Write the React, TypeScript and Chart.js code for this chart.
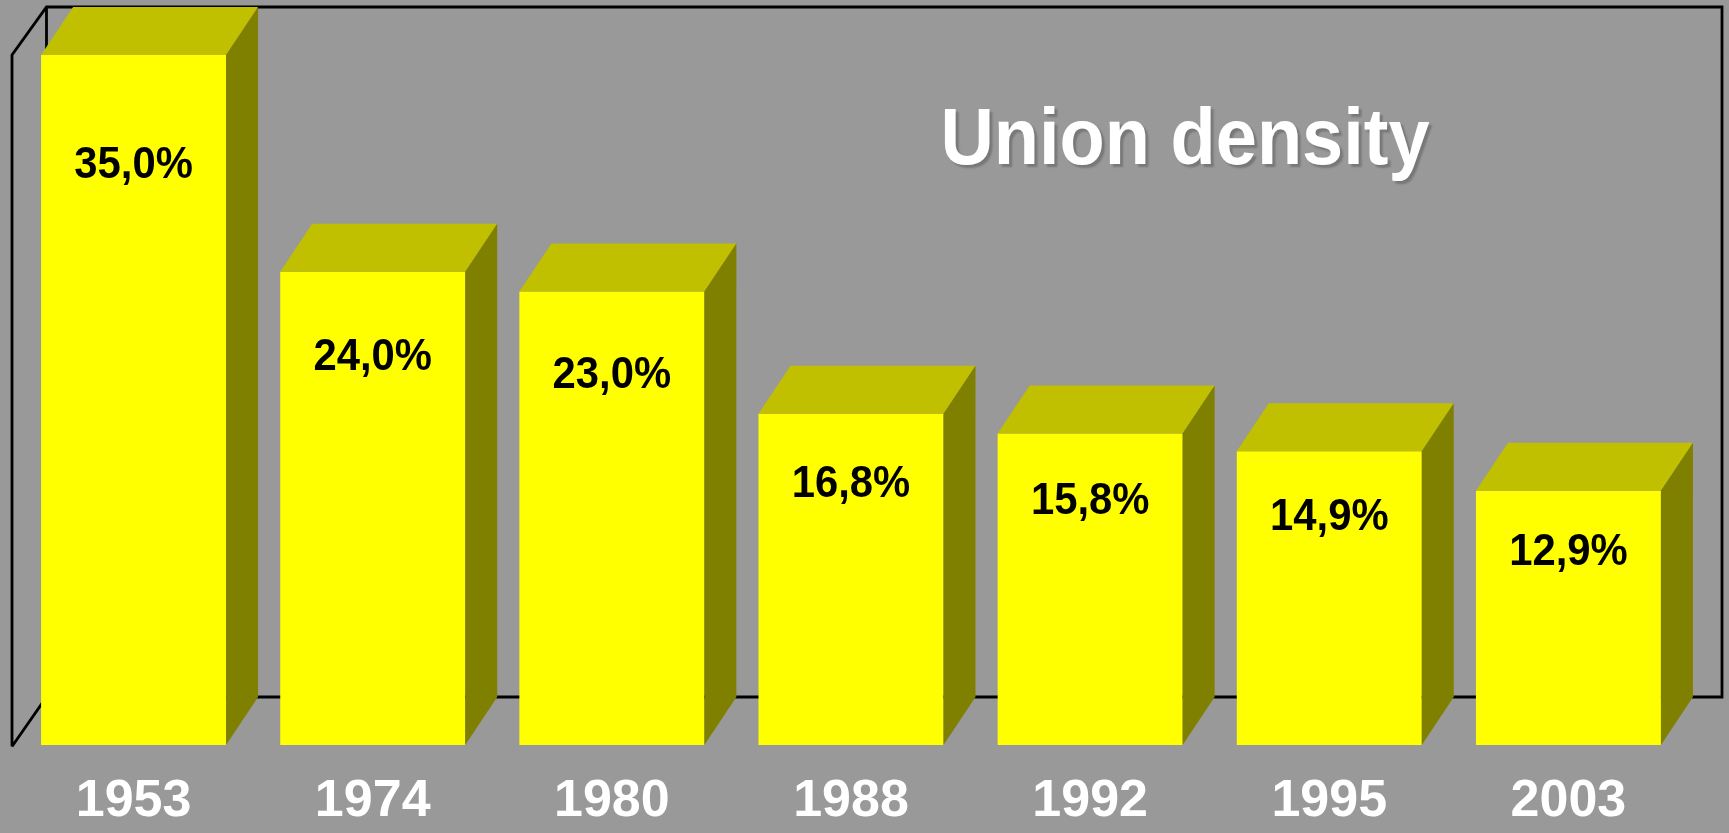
import React, { useEffect, useRef } from 'react';
import { Chart, registerables } from 'chart.js';

Chart.register(...registerables);

const years = ['1953', '1974', '1980', '1988', '1992', '1995', '2003'];
const density = [35.0, 24.0, 23.0, 16.8, 15.8, 14.9, 12.9];
const valueLabels = ['35,0%', '24,0%', '23,0%', '16,8%', '15,8%', '14,9%', '12,9%'];
const titleText = 'Union density';

const BG = '#999999';
const FRONT = '#ffff00';
const TOPC = '#c0c000';
const SIDE = '#808000';
const DX = 32;
const DY = 48;
const FONT = '"Liberation Sans", Arial, sans-serif';

const threeD = {
  id: 'threeD',
  beforeDraw(chart: any) {
    const { ctx, width, height, chartArea } = chart;
    ctx.save();
    ctx.fillStyle = BG;
    ctx.fillRect(0, 0, width, height);
    const l = chartArea.left - 2;
    const t = chartArea.top;
    const b = chartArea.bottom + 1.5;
    const wl = l + 34.5;
    const wt = t - 48;
    const wb = b - 49.5;
    const wr = chartArea.right + 34;
    ctx.strokeStyle = '#000';
    ctx.lineWidth = 2.8;
    ctx.lineJoin = 'miter';
    ctx.beginPath();
    ctx.moveTo(l, b);
    ctx.lineTo(l, t);
    ctx.lineTo(wl, wt);
    ctx.lineTo(wr, wt);
    ctx.lineTo(wr, wb);
    ctx.lineTo(wl, wb);
    ctx.lineTo(l, b);
    ctx.moveTo(wl, wt);
    ctx.lineTo(wl, wb);
    ctx.stroke();
    ctx.restore();
  },
  afterDatasetsDraw(chart: any) {
    const { ctx } = chart;
    const meta = chart.getDatasetMeta(0);
    ctx.save();
    meta.data.forEach((bar: any, i: number) => {
      const { x, y, base, width } = bar.getProps(['x', 'y', 'base', 'width'], true);
      const left = x - width / 2;
      const right = x + width / 2;
      ctx.fillStyle = TOPC;
      ctx.beginPath();
      ctx.moveTo(left, y);
      ctx.lineTo(left + DX, y - DY);
      ctx.lineTo(right + DX, y - DY);
      ctx.lineTo(right, y);
      ctx.closePath();
      ctx.fill();
      ctx.fillStyle = SIDE;
      ctx.beginPath();
      ctx.moveTo(right, y);
      ctx.lineTo(right + DX, y - DY);
      ctx.lineTo(right + DX, base - DY);
      ctx.lineTo(right, base);
      ctx.closePath();
      ctx.fill();

      // value label
      const cy = y + 30 + 2.2 * density[i];
      ctx.save();
      ctx.translate(x, cy + 0.358 * 44);
      ctx.scale(0.95, 1);
      ctx.font = `bold 44px ${FONT}`;
      ctx.fillStyle = '#000';
      ctx.textAlign = 'center';
      ctx.textBaseline = 'alphabetic';
      ctx.fillText(valueLabels[i], 0, 0);
      ctx.restore();
    });

    // title
    ctx.save();
    ctx.translate(1185, 164);
    ctx.scale(0.925, 1);
    ctx.font = `bold 80px ${FONT}`;
    ctx.textAlign = 'center';
    ctx.textBaseline = 'alphabetic';
    ctx.shadowColor = 'rgba(0,0,0,0.22)';
    ctx.shadowOffsetX = 3;
    ctx.shadowOffsetY = 3;
    ctx.shadowBlur = 2;
    ctx.fillStyle = '#ffffff';
    ctx.fillText(titleText, 0, 0);
    ctx.restore();
    ctx.restore();
  },
};

export default function App() {
  const ref = useRef<HTMLCanvasElement | null>(null);
  useEffect(() => {
    document.body.style.margin = '0';
    document.body.style.background = BG;
    const canvas = ref.current;
    if (!canvas) return;
    const chart = new Chart(canvas, {
      type: 'bar',
      data: {
        labels: years,
        datasets: [
          {
            label: 'Union density',
            data: density,
            backgroundColor: FRONT,
            borderWidth: 0,
            categoryPercentage: 1,
            barPercentage: 0.7735,
          },
        ],
      },
      options: {
        animation: false,
        responsive: false,
        devicePixelRatio: 1,
        layout: { padding: { left: 14, right: 41, top: 55, bottom: 0 } },
        plugins: {
          legend: { display: false },
          tooltip: { enabled: false },
          title: { display: false },
        },
        scales: {
          x: {
            offset: true,
            grid: { display: false, drawTicks: false, tickLength: 0 },
            border: { display: false },
            ticks: {
              color: '#ffffff',
              padding: 25,
              font: { family: FONT, size: 52, weight: 'bold', lineHeight: 1.2 },
              maxRotation: 0,
              autoSkip: false,
            },
            afterFit: (scale: any) => {
              scale.height = 88;
            },
          },
          y: {
            display: false,
            min: 0,
            max: 35,
          },
        },
      },
      plugins: [threeD],
    });
    return () => chart.destroy();
  }, []);
  return (
    <div style={{ width: 1729, height: 833 }}>
      <canvas ref={ref} width={1729} height={833} style={{ display: 'block' }} />
    </div>
  );
}
